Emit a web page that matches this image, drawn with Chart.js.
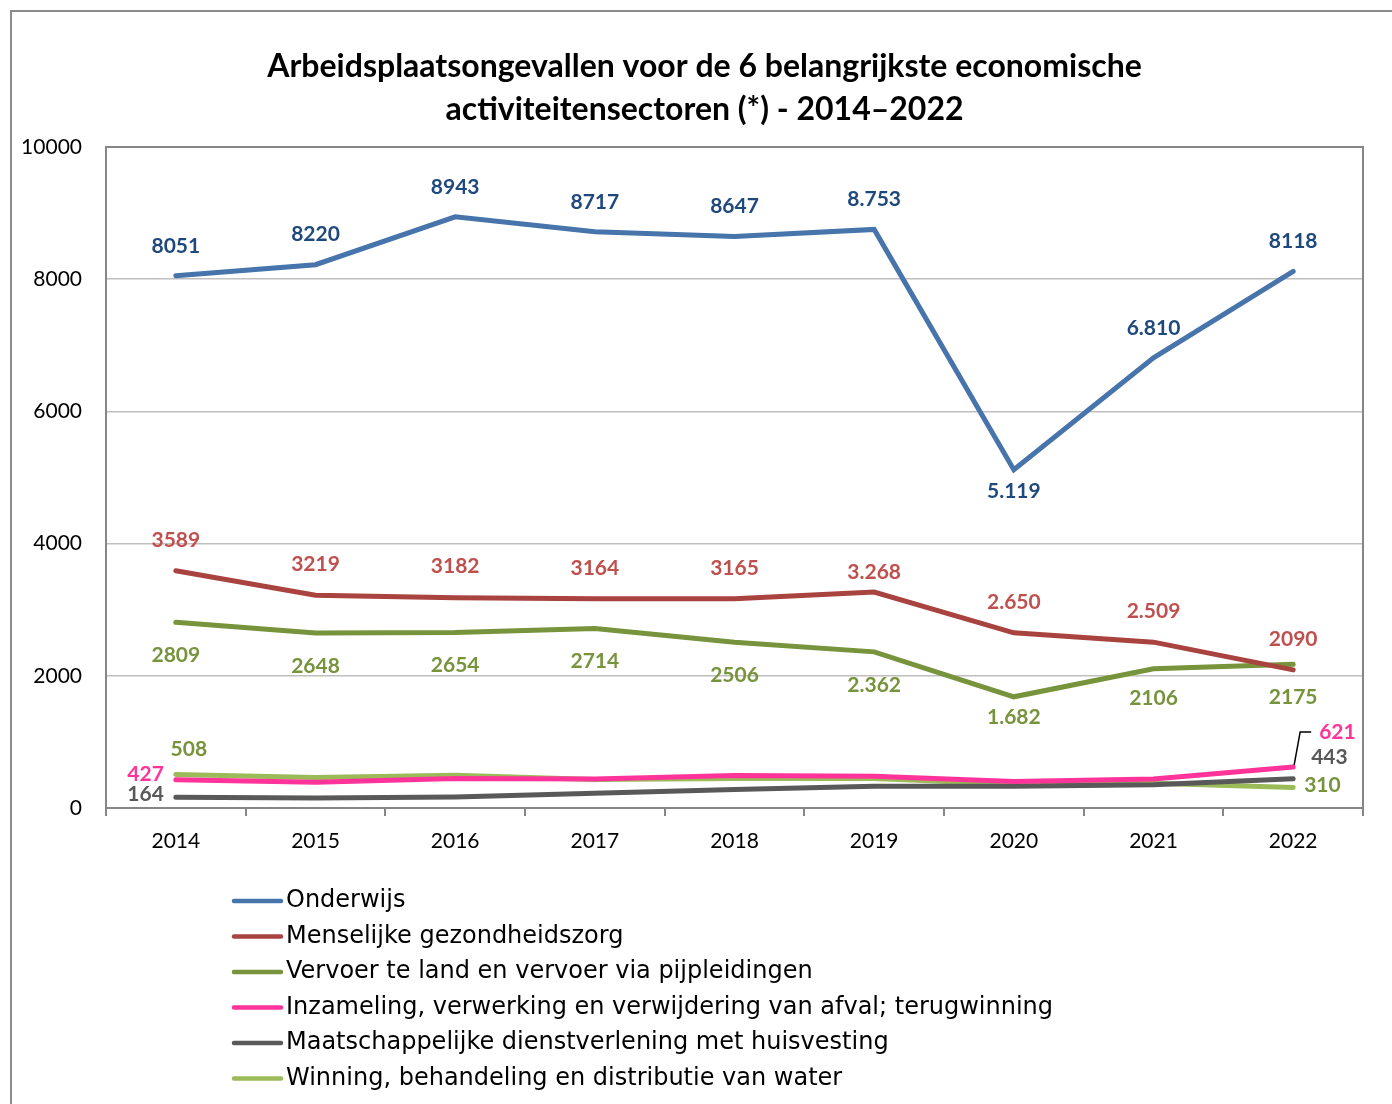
<!DOCTYPE html>
<html>
<head>
<meta charset="utf-8">
<script src="https://cdn.jsdelivr.net/npm/chart.js@4.4.1/dist/chart.umd.min.js"></script>
<style>
  html, body { margin: 0; padding: 0; background: #fff; overflow: hidden; }
  #frame { position: absolute; left: 10px; top: 10px; width: 1500px; height: 1200px; border: 2px solid #8c8c8c; box-sizing: border-box; }
  #wrap { position: absolute; left: 0; top: 0; width: 1392px; height: 1104px; }
</style>
</head>
<body>
<div id="frame"></div>
<div id="wrap"><canvas id="myChart" width="1392" height="1104"></canvas></div>
<script>

  //////////////////
 // DONNÉES      //
//////////////////

const titleLines = ['Arbeidsplaatsongevallen voor de 6 belangrijkste economische', 'activiteitensectoren (*) - 2014\u20132022'];

const years = ['2014', '2015', '2016', '2017', '2018', '2019', '2020', '2021', '2022'];

const onderwijs       = [8051, 8220, 8943, 8717, 8647, 8753, 5119, 6810, 8118];
const gezondheidszorg = [3589, 3219, 3182, 3164, 3165, 3268, 2650, 2509, 2090];
const vervoer         = [2809, 2648, 2654, 2714, 2506, 2362, 1682, 2106, 2175];
const afval           = [427, 390, 445, 440, 490, 480, 400, 440, 621];
const dienstverlening = [164, 150, 165, 225, 280, 330, 330, 350, 443];
const water           = [508, 460, 495, 430, 445, 445, 360, 375, 310];

// labels zoals ze op de grafiek staan
const lblOnderwijs       = ['8051', '8220', '8943', '8717', '8647', '8.753', '5.119', '6.810', '8118'];
const lblGezondheidszorg = ['3589', '3219', '3182', '3164', '3165', '3.268', '2.650', '2.509', '2090'];
const lblVervoer         = ['2809', '2648', '2654', '2714', '2506', '2.362', '1.682', '2106', '2175'];
const lblAfval           = ['427', '', '', '', '', '', '', '', '621'];
const lblDienstverlening = ['164', '', '', '', '', '', '', '', '443'];
const lblWater           = ['508', '', '', '', '', '', '', '', '310'];

const seriesNames = [
  'Onderwijs',
  'Menselijke gezondheidszorg',
  'Vervoer te land en vervoer via pijpleidingen',
  'Inzameling, verwerking en verwijdering van afval; terugwinning',
  'Maatschappelijke dienstverlening met huisvesting',
  'Winning, behandeling en distributie van water'
];

const yTicks = [0, 2000, 4000, 6000, 8000, 10000];


  //////////////////
 // STIJL        //
//////////////////

const lineColors  = ['#4674AB', '#A9433F', '#77933C', '#FF3399', '#595959', '#9BBB59'];
const labelColors = ['#1F497D', '#C0504D', '#77933C', '#FF3399', '#595959', '#77933C'];

// plaatsing van de datalabels (per reeks, met uitzonderingen per punt)
const labelPlacement = [
  { all: { dy: -30 }, 6: { dy: 22 } },
  { all: { dy: -31 }, 5: { dy: -20 } },
  { all: { dy: 33 }, 6: { dy: 20 }, 7: { dy: 29 } },
  { 0: { dx: -12, dy: -6, align: 'right' }, 8: { dx: 26, dy: -35, align: 'left', leader: true } },
  { 0: { dx: -12, dy: -3, align: 'right' }, 8: { dx: 18, dy: -21, align: 'left' } },
  { 0: { dx: 13, dy: -25 }, 8: { dx: 11, dy: -2, align: 'left' } }
];

const seriesData   = [onderwijs, gezondheidszorg, vervoer, afval, dienstverlening, water];
const seriesLabels = [lblOnderwijs, lblGezondheidszorg, lblVervoer, lblAfval, lblDienstverlening, lblWater];


  //////////////////
 // PLUGINS      //
//////////////////

// titel (iets rechts van het midden, zoals in Excel)
const chartTitle = {
  id: 'chartTitle',
  afterDraw(chart) {
    const ctx = chart.ctx;
    ctx.save();
    ctx.font = 'bold 32px Lato';
    ctx.fillStyle = '#000';
    ctx.textAlign = 'center';
    ctx.textBaseline = 'middle';
    titleLines.forEach((line, i) => ctx.fillText(line, 704.5, 67 + i * 43));
    ctx.restore();
  }
};

// rand rond het plotgebied
const plotBorder = {
  id: 'plotBorder',
  beforeDatasetsDraw(chart) {
    const { ctx, chartArea } = chart;
    ctx.save();
    ctx.strokeStyle = '#868686';
    ctx.lineWidth = 2;
    ctx.strokeRect(chartArea.left, chartArea.top, chartArea.right - chartArea.left, chartArea.bottom - chartArea.top);
    ctx.restore();
  }
};

// datalabels
const dataLabels = {
  id: 'dataLabels',
  afterDatasetsDraw(chart) {
    const ctx = chart.ctx;
    ctx.save();
    ctx.font = 'bold 21px Lato';
    ctx.textBaseline = 'middle';
    chart.data.datasets.forEach((ds, i) => {
      const meta = chart.getDatasetMeta(i);
      meta.data.forEach((pt, j) => {
        const text = seriesLabels[i][j];
        if (!text) return;
        const p = Object.assign({ dx: 0, dy: 0, align: 'center' }, labelPlacement[i].all, labelPlacement[i][j]);
        if (p.leader) {
          ctx.strokeStyle = '#000';
          ctx.lineWidth = 1.5;
          ctx.beginPath();
          ctx.moveTo(pt.x + 1, pt.y - 2);
          ctx.lineTo(pt.x + 7, pt.y - 35);
          ctx.lineTo(pt.x + 18, pt.y - 35);
          ctx.stroke();
        }
        ctx.fillStyle = labelColors[i];
        ctx.textAlign = p.align;
        ctx.fillText(text, pt.x + p.dx, pt.y + p.dy);
      });
    });
    ctx.restore();
  }
};

// legende onder de grafiek, verticaal
const listLegend = {
  id: 'listLegend',
  afterDraw(chart) {
    const ctx = chart.ctx;
    ctx.save();
    ctx.font = '24px "DejaVu Sans"';
    ctx.textBaseline = 'middle';
    ctx.textAlign = 'left';
    chart.data.datasets.forEach((ds, i) => {
      const y = 901 + i * 35.5;
      ctx.strokeStyle = ds.borderColor;
      ctx.lineWidth = 4.5;
      ctx.lineCap = 'round';
      ctx.beginPath();
      ctx.moveTo(234, y);
      ctx.lineTo(281, y);
      ctx.stroke();
      ctx.fillStyle = '#000';
      ctx.fillText(ds.label, 286, y);
    });
    ctx.restore();
  }
};


  //////////////////
 // GRAFIEK      //
//////////////////

const ctx = document.getElementById('myChart').getContext('2d');

new Chart(ctx, {
  type: 'line',
  data: {
    labels: years,
    datasets: seriesData.map((values, i) => ({
      label: seriesNames[i],
      data: values,
      borderColor: lineColors[i],
      backgroundColor: lineColors[i],
      borderWidth: 5,
      borderCapStyle: 'round',
      pointRadius: 0,
      tension: 0,
      fill: false
    }))
  },
  options: {
    responsive: false,
    animation: false,
    layout: { padding: { left: 0, right: 29, top: 147, bottom: 246 } },
    plugins: {
      legend: { display: false },
      tooltip: { enabled: false },
      title: { display: false }
    },
    scales: {
      x: {
        offset: true,
        grid: { display: true, drawOnChartArea: false, offset: true, tickLength: 8, color: '#868686', lineWidth: 2 },
        border: { color: '#868686', width: 2 },
        ticks: { color: '#000', font: { family: 'Lato', size: 21 }, padding: 13 },
        afterFit: scale => { scale.height = 50; }
      },
      y: {
        min: 0,
        max: 10000,
        afterBuildTicks: scale => { scale.ticks = yTicks.map(v => ({ value: v })); },
        grid: { color: '#BFBFBF', lineWidth: 1.5, drawTicks: false },
        border: { color: '#868686', width: 2 },
        ticks: { color: '#000', font: { family: 'Lato', size: 21 }, padding: 24, callback: v => String(v) },
        afterFit: scale => { scale.width = 106; }
      }
    }
  },
  plugins: [chartTitle, plotBorder, dataLabels, listLegend]
});
</script>
</body>
</html>
